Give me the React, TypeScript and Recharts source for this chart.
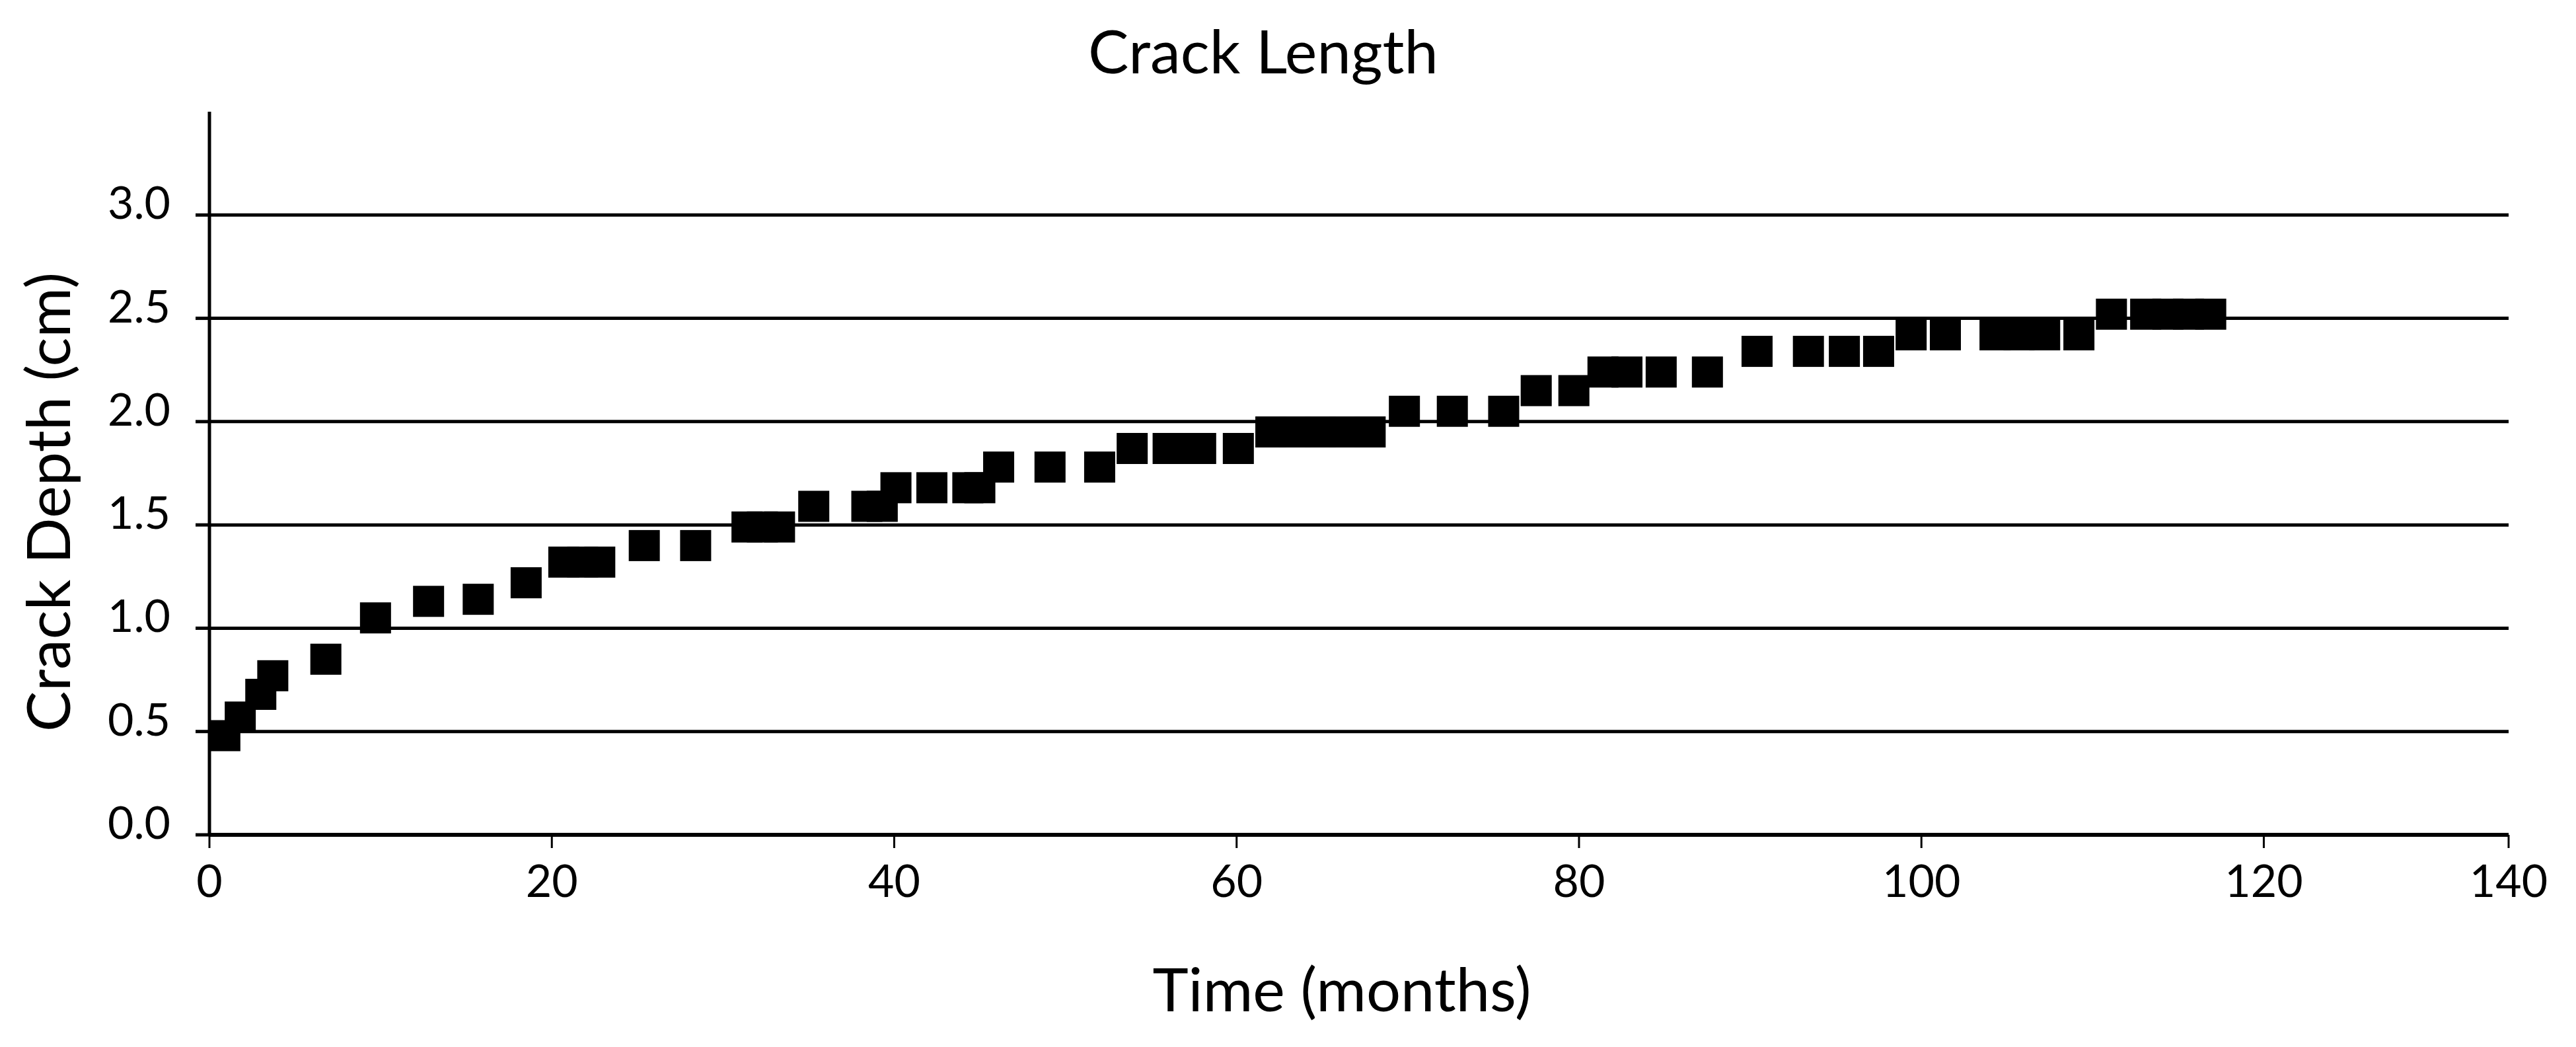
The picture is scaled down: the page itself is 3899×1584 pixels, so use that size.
import React from "react";
import { ScatterChart, Scatter, XAxis, YAxis, ReferenceLine } from "recharts";

// ---- data ----
const months = [
  0.9, 1.8, 3.0, 3.7, 6.8, 9.7, 12.8, 15.7, 18.5, 20.7, 21.8, 22.8, 25.4, 28.4,
  31.4, 32.3, 33.3, 35.3, 38.4, 39.3, 40.1, 42.2, 44.3, 45.0, 46.1, 49.1, 52.0,
  53.9, 56.0, 57.0, 57.9, 60.1, 62.0, 63.4, 64.9, 66.3, 67.8, 69.8, 72.6, 75.6,
  77.5, 79.7, 81.4, 82.8, 84.8, 87.5, 90.4, 93.4, 95.5, 97.5, 99.4, 101.4, 104.3,
  105.7, 107.2, 109.2, 111.1, 113.1, 114.4, 115.6, 116.9,
];
const depths = [
  0.48, 0.57, 0.68, 0.77, 0.85, 1.05, 1.13, 1.14, 1.22, 1.32, 1.32, 1.32, 1.4, 1.4,
  1.49, 1.49, 1.49, 1.59, 1.59, 1.59, 1.68, 1.68, 1.68, 1.68, 1.78, 1.78, 1.78,
  1.87, 1.87, 1.87, 1.87, 1.87, 1.95, 1.95, 1.95, 1.95, 1.95, 2.05, 2.05, 2.05,
  2.15, 2.15, 2.24, 2.24, 2.24, 2.24, 2.34, 2.34, 2.34, 2.34, 2.42, 2.42, 2.42,
  2.42, 2.42, 2.42, 2.52, 2.52, 2.52, 2.52, 2.52,
];

// x axis: the drawn axis ends at ~134.3 months, where the picture prints "140"
const X_AXIS_END = 134.3;
const xTickValues = [0, 20, 40, 60, 80, 100, 120, X_AXIS_END];
const xTickLabels = ["0", "20", "40", "60", "80", "100", "120", "140"];
const yTickValues = [0, 0.5, 1, 1.5, 2, 2.5, 3];
const Y_AXIS_END = 3.5;

const TITLE = "Crack Length";
const X_LABEL = "Time (months)";
const Y_LABEL = "Crack Depth (cm)";

const data = months.map((m, i) => ({ month: m, depth: depths[i] }));

const FONT = "Lato, 'Open Sans', sans-serif";
const W = 3899;
const H = 1584;

const Square = (props: any) => {
  const { cx, cy } = props;
  if (cx == null || cy == null) return null;
  const s = 47;
  return <rect x={cx - s / 2} y={cy - s / 2} width={s} height={s} fill="#000" />;
};

const YTick = (props: any) => {
  const { x, y, payload } = props;
  return (
    <text x={x} y={y + 6} textAnchor="end" fontFamily={FONT} fontSize={68} fill="#000">
      {Number(payload.value).toFixed(1)}
    </text>
  );
};

const XTick = (props: any) => {
  const { x, y, payload } = props;
  const idx = xTickValues.indexOf(payload.value);
  const label = idx >= 0 ? xTickLabels[idx] : String(payload.value);
  return (
    <text x={x} y={y + 74} textAnchor="middle" fontFamily={FONT} fontSize={68} fill="#000">
      {label}
    </text>
  );
};

export default function App() {
  return (
    <div style={{ position: "absolute", left: 0, top: 0, width: W, height: H, background: "#fff" }}>
      <ScatterChart
        width={W}
        height={H}
        margin={{ top: 169, right: 102, bottom: 0, left: 0 }}
      >
        <XAxis
          type="number"
          dataKey="month"
          domain={[0, X_AXIS_END]}
          ticks={xTickValues}
          height={321}
          axisLine={{ stroke: "#000", strokeWidth: 6 }}
          tickLine={{ stroke: "#000", strokeWidth: 3 }}
          tickSize={20}
          tickMargin={0}
          tick={<XTick />}
          interval={0}
          allowDataOverflow
        />
        <YAxis
          type="number"
          dataKey="depth"
          domain={[0, Y_AXIS_END]}
          ticks={yTickValues}
          width={317}
          axisLine={{ stroke: "#000", strokeWidth: 5 }}
          tickLine={{ stroke: "#000", strokeWidth: 5 }}
          tickSize={21}
          tickMargin={38}
          tick={<YTick />}
          interval={0}
          allowDataOverflow
        />
        {yTickValues
          .filter((v) => v > 0)
          .map((v) => (
            <ReferenceLine key={v} y={v} stroke="#000" strokeWidth={5} />
          ))}
        <Scatter data={data} fill="#000" shape={<Square />} isAnimationActive={false} />
      </ScatterChart>
      <svg
        width={W}
        height={H}
        style={{ position: "absolute", left: 0, top: 0, pointerEvents: "none" }}
      >
        <text x={1912} y={111} textAnchor="middle" fontFamily={FONT} fontSize={92} fill="#000">
          {TITLE}
        </text>
        <text x={2031} y={1530} textAnchor="middle" fontFamily={FONT} fontSize={92} fill="#000">
          {X_LABEL}
        </text>
        <text
          transform="translate(106,1107) rotate(-90)"
          textAnchor="start"
          fontFamily={FONT}
          fontSize={92}
          fill="#000"
        >
          {Y_LABEL}
        </text>
      </svg>
    </div>
  );
}
